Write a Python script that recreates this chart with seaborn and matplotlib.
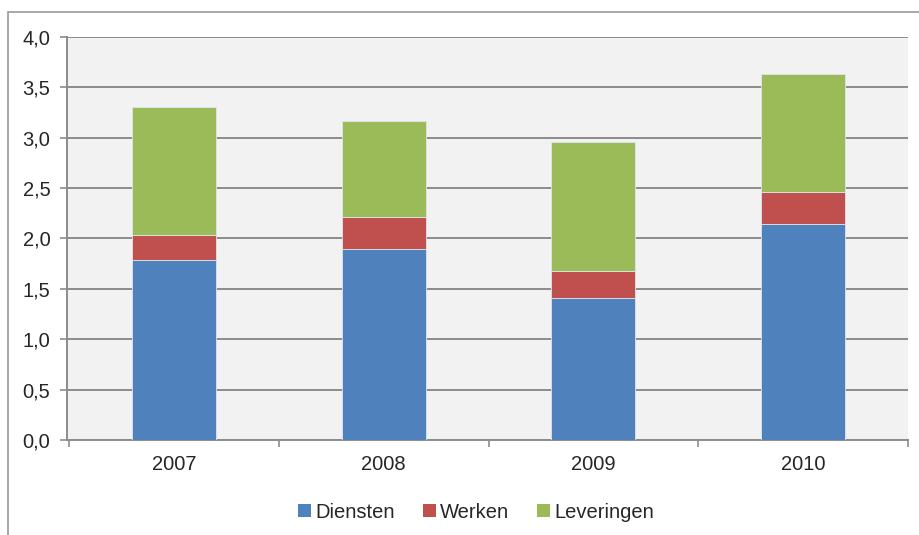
import numpy as np
import pandas as pd
import matplotlib.pyplot as plt
import seaborn as sns
from matplotlib.patches import Rectangle, Patch

# data
years = ['2007', '2008', '2009', '2010']
diensten = [1.79, 1.90, 1.41, 2.14]
werken = [0.24, 0.31, 0.27, 0.32]
leveringen = [1.28, 0.96, 1.28, 1.17]

series_names = ['Diensten', 'Werken', 'Leveringen']
colors = ['#4F81BD', '#C0504D', '#9BBB59']

sns.set_theme(style='white')
plt.rcParams['font.family'] = ['Liberation Sans', 'DejaVu Sans']

df = pd.DataFrame({'Jaar': years, 'Diensten': diensten,
                   'Werken': werken, 'Leveringen': leveringen})

fig = plt.figure(figsize=(9.2, 5.35), dpi=100)
ax = fig.add_axes([67 / 920, 95 / 535, 841 / 920, 403 / 535])
ax.set_facecolor('#F2F2F2')

# outer chart frame
fig.patches.append(Rectangle((8 / 920, -0.05), 1.0, 1.05 - 12 / 535,
                             transform=fig.transFigure, fill=False,
                             edgecolor='#9A9A9A', linewidth=1.2, zorder=0))

bottom = np.zeros(len(years))
for name, col in zip(series_names, colors):
    sns.barplot(data=df, x='Jaar', y=name, color=col, bottom=bottom,
                width=0.4, ax=ax, edgecolor='#DDE6EE', linewidth=0.6,
                saturation=1, zorder=3)
    bottom = bottom + df[name].values

ax.set_xlim(-0.51, 3.5)
ax.set_ylim(0, 4.0)
yt = np.arange(0, 4.01, 0.5)
ax.set_yticks(yt)
ax.set_yticklabels([f'{v:.1f}'.replace('.', ',') for v in yt], fontsize=14.5)
ax.yaxis.grid(True, color='#8C8C8C', linewidth=1.4, zorder=0)
ax.set_axisbelow(True)

# x ticks at category boundaries, labels centered
ax.set_xticks(np.arange(-0.5, 3.6, 1.0))
ax.set_xticklabels([])
ax.set_xticks(np.arange(0, 4), minor=True)
ax.set_xticklabels(years, minor=True, fontsize=14.5)
ax.tick_params(axis='x', which='major', direction='out', length=5,
               color='#8C8C8C', width=1.2, bottom=True)
ax.tick_params(axis='x', which='minor', length=0, pad=11)
ax.tick_params(axis='y', direction='out', length=5, color='#8C8C8C',
               width=1.2, left=True, pad=7)

for side in ['top', 'right']:
    ax.spines[side].set_visible(False)
for side in ['left', 'bottom']:
    ax.spines[side].set_color('#8C8C8C')
    ax.spines[side].set_linewidth(1.4)

ax.set_xlabel('')
ax.set_ylabel('')

handles = [Patch(facecolor=c, edgecolor='none') for c in colors]
fig.legend(handles, series_names, loc='center', ncol=3,
           bbox_to_anchor=(476 / 920, 1 - 512 / 535), frameon=False,
           fontsize=14.5, handlelength=0.65, handleheight=0.65,
           handletextpad=0.2, columnspacing=1.4)

plt.savefig('out.png', dpi=100)
plt.close()
